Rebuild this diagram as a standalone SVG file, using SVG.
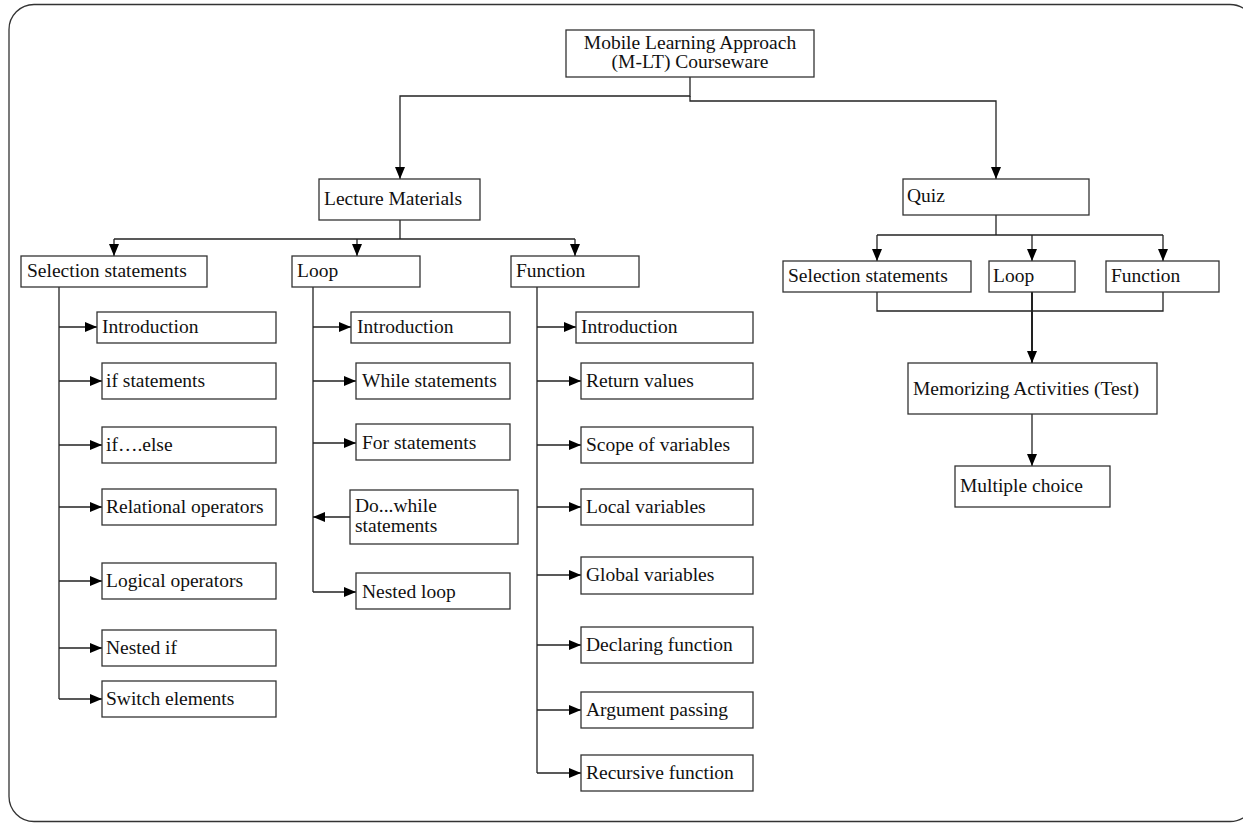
<svg xmlns="http://www.w3.org/2000/svg" width="1243" height="823" viewBox="0 0 1243 823">
<style>
.b{fill:#fff;stroke:#333;stroke-width:1.3}
.t{font-family:"Liberation Serif","Times New Roman",serif;font-size:19.5px;fill:#111}
.c{fill:none;stroke:#222;stroke-width:1.3}
.m{text-anchor:middle}
</style>
<defs>
<marker id="a" markerUnits="userSpaceOnUse" markerWidth="13" markerHeight="12" refX="12" refY="6" orient="auto"><path d="M0,1 L12,6 L0,11 z" fill="#000"/></marker>
</defs>
<rect x="9" y="4.5" width="1246" height="817" rx="25" fill="none" stroke="#333" stroke-width="1.3"/>
<g id="connectors" class="c">
<path d="M690,77 V96 H400 V179" marker-end="url(#a)"/>
<path d="M690,96 V101 H996 V179" marker-end="url(#a)"/>
<path d="M400,220 V239"/>
<path d="M114,239 H575"/>
<path d="M114,239 V256" marker-end="url(#a)"/>
<path d="M357,239 V256" marker-end="url(#a)"/>
<path d="M575,239 V256" marker-end="url(#a)"/>
<path d="M996,215 V235"/>
<path d="M877,235 H1163"/>
<path d="M877,235 V261" marker-end="url(#a)"/>
<path d="M1032,235 V261" marker-end="url(#a)"/>
<path d="M1163,235 V261" marker-end="url(#a)"/>
<path d="M877,292 V311 H1163 V292"/>
<path d="M1032,292 V363" stroke-width="2" marker-end="url(#a)"/>
<path d="M1032,414 V466" marker-end="url(#a)"/>
<path d="M59,287 V699"/>
<path d="M59,327 H97" marker-end="url(#a)"/>
<path d="M59,381 H102" marker-end="url(#a)"/>
<path d="M59,445 H102" marker-end="url(#a)"/>
<path d="M59,507 H102" marker-end="url(#a)"/>
<path d="M59,581 H102" marker-end="url(#a)"/>
<path d="M59,648 H102" marker-end="url(#a)"/>
<path d="M59,699 H102" marker-end="url(#a)"/>
<path d="M313,287 V592"/>
<path d="M313,327 H351" marker-end="url(#a)"/>
<path d="M313,381 H356" marker-end="url(#a)"/>
<path d="M313,443 H356" marker-end="url(#a)"/>
<path d="M350,517 H313" marker-end="url(#a)"/>
<path d="M313,592 H356" marker-end="url(#a)"/>
<path d="M537,287 V773"/>
<path d="M537,327 H576" marker-end="url(#a)"/>
<path d="M537,381 H581" marker-end="url(#a)"/>
<path d="M537,445 H581" marker-end="url(#a)"/>
<path d="M537,507 H581" marker-end="url(#a)"/>
<path d="M537,575 H581" marker-end="url(#a)"/>
<path d="M537,645 H581" marker-end="url(#a)"/>
<path d="M537,710 H581" marker-end="url(#a)"/>
<path d="M537,773 H581" marker-end="url(#a)"/>
</g>
<g id="root"><rect class="b" x="566" y="30" width="248" height="47"/><text class="t m" x="690" y="49">Mobile Learning Approach</text><text class="t m" x="690" y="68">(M-LT) Courseware</text></g>
<g id="lecture"><rect class="b" x="319" y="179" width="161" height="41"/><text class="t" x="324" y="205">Lecture Materials</text></g>
<g id="quiz"><rect class="b" x="903" y="179" width="186" height="36"/><text class="t" x="907" y="202">Quiz</text></g>
<g id="sel"><rect class="b" x="21" y="256" width="186" height="31"/><text class="t" x="27" y="277">Selection statements</text></g>
<g id="loop"><rect class="b" x="292" y="256" width="128" height="31"/><text class="t" x="297" y="277">Loop</text></g>
<g id="func"><rect class="b" x="511" y="256" width="128" height="31"/><text class="t" x="516" y="277">Function</text></g>
<g id="sel-intro"><rect class="b" x="97" y="312" width="179" height="31"/><text class="t" x="102" y="333">Introduction</text></g>
<g id="sel-if"><rect class="b" x="102" y="363" width="174" height="36"/><text class="t" x="106" y="387">if statements</text></g>
<g id="sel-ifelse"><rect class="b" x="102" y="427" width="174" height="36"/><text class="t" x="106" y="451">if….else</text></g>
<g id="sel-rel"><rect class="b" x="102" y="489" width="174" height="36"/><text class="t" x="106" y="513">Relational operators</text></g>
<g id="sel-log"><rect class="b" x="102" y="563" width="174" height="36"/><text class="t" x="106" y="587">Logical operators</text></g>
<g id="sel-nested"><rect class="b" x="102" y="630" width="174" height="36"/><text class="t" x="106" y="654">Nested if</text></g>
<g id="sel-switch"><rect class="b" x="102" y="681" width="174" height="36"/><text class="t" x="106" y="705">Switch elements</text></g>
<g id="loop-intro"><rect class="b" x="351" y="312" width="159" height="31"/><text class="t" x="357" y="333">Introduction</text></g>
<g id="loop-while"><rect class="b" x="356" y="363" width="154" height="36"/><text class="t" x="362" y="387">While statements</text></g>
<g id="loop-for"><rect class="b" x="356" y="424" width="154" height="36"/><text class="t" x="362" y="449">For statements</text></g>
<g id="loop-do"><rect class="b" x="350" y="490" width="168" height="54"/><text class="t" x="355" y="512">Do...while</text><text class="t" x="355" y="532">statements</text></g>
<g id="loop-nested"><rect class="b" x="356" y="573" width="154" height="36"/><text class="t" x="362" y="598">Nested loop</text></g>
<g id="fn-intro"><rect class="b" x="576" y="312" width="177" height="31"/><text class="t" x="581" y="333">Introduction</text></g>
<g id="fn-ret"><rect class="b" x="581" y="363" width="172" height="36"/><text class="t" x="586" y="387">Return values</text></g>
<g id="fn-scope"><rect class="b" x="581" y="427" width="172" height="36"/><text class="t" x="586" y="451">Scope of variables</text></g>
<g id="fn-local"><rect class="b" x="581" y="489" width="172" height="36"/><text class="t" x="586" y="513">Local variables</text></g>
<g id="fn-global"><rect class="b" x="581" y="557" width="172" height="37"/><text class="t" x="586" y="581">Global variables</text></g>
<g id="fn-decl"><rect class="b" x="581" y="627" width="172" height="36"/><text class="t" x="586" y="651">Declaring function</text></g>
<g id="fn-arg"><rect class="b" x="581" y="692" width="172" height="36"/><text class="t" x="586" y="716">Argument passing</text></g>
<g id="fn-rec"><rect class="b" x="581" y="755" width="172" height="36"/><text class="t" x="586" y="779">Recursive function</text></g>
<g id="q-sel"><rect class="b" x="783" y="261" width="188" height="31"/><text class="t" x="788" y="282">Selection statements</text></g>
<g id="q-loop"><rect class="b" x="989" y="261" width="86" height="31"/><text class="t" x="993" y="282">Loop</text></g>
<g id="q-func"><rect class="b" x="1106" y="261" width="113" height="31"/><text class="t" x="1111" y="282">Function</text></g>
<g id="memo"><rect class="b" x="908" y="363" width="249" height="51"/><text class="t" x="913" y="395">Memorizing Activities (Test)</text></g>
<g id="mc"><rect class="b" x="955" y="466" width="155" height="41"/><text class="t" x="960" y="492">Multiple choice</text></g>
</svg>
